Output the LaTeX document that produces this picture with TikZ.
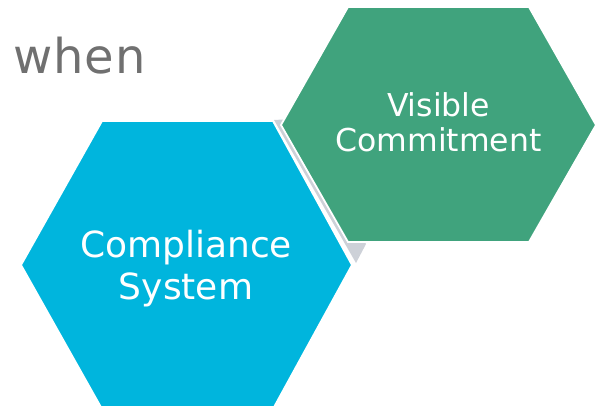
\documentclass[tikz,border=0pt]{standalone}
\usepackage{fontspec}
\setmainfont{DejaVu Sans}
\definecolor{hexblue}{HTML}{00B5DD}
\definecolor{hexgreen}{HTML}{40A37D}
\definecolor{hexgrey}{HTML}{CDD1D8}
\definecolor{wordgrey}{HTML}{707070}
\tikzset{
  hexshape/.style={draw=white, line width=1.8pt, line join=miter},
  hexlabel/.style={text=white, align=center, inner sep=0pt},
}
\begin{document}
\begin{tikzpicture}[x=1pt,y=-1pt]
\useasboundingbox (0,0) rectangle (598,405);
% grey wedge behind
\fill[hexgrey] (274,120) -- (356,263) -- (366,244) -- (292,119) -- cycle;
% blue hexagon
\filldraw[hexshape, fill=hexblue] (102,121) -- (273,121) -- (352,265) -- (273,409) -- (102,409) -- (21,265) -- cycle;
% green hexagon
\filldraw[hexshape, fill=hexgreen] (348,7) -- (529,7) -- (596,125) -- (529,242) -- (348,242) -- (281,125) -- cycle;
\node[hexlabel, font=\fontsize{36}{42}\selectfont] (compliance) at (186,268.5) {Compliance\\System};
\node[hexlabel, font=\fontsize{31.5}{35}\selectfont] (visible) at (438.5,122.5) {Visible\\Commitment};
\node[anchor=base west, inner sep=0pt, text=wordgrey, font=\fontsize{48}{52}\selectfont\addfontfeature{LetterSpace=2}] (when) at (13,73) {when};
\end{tikzpicture}
\end{document}
